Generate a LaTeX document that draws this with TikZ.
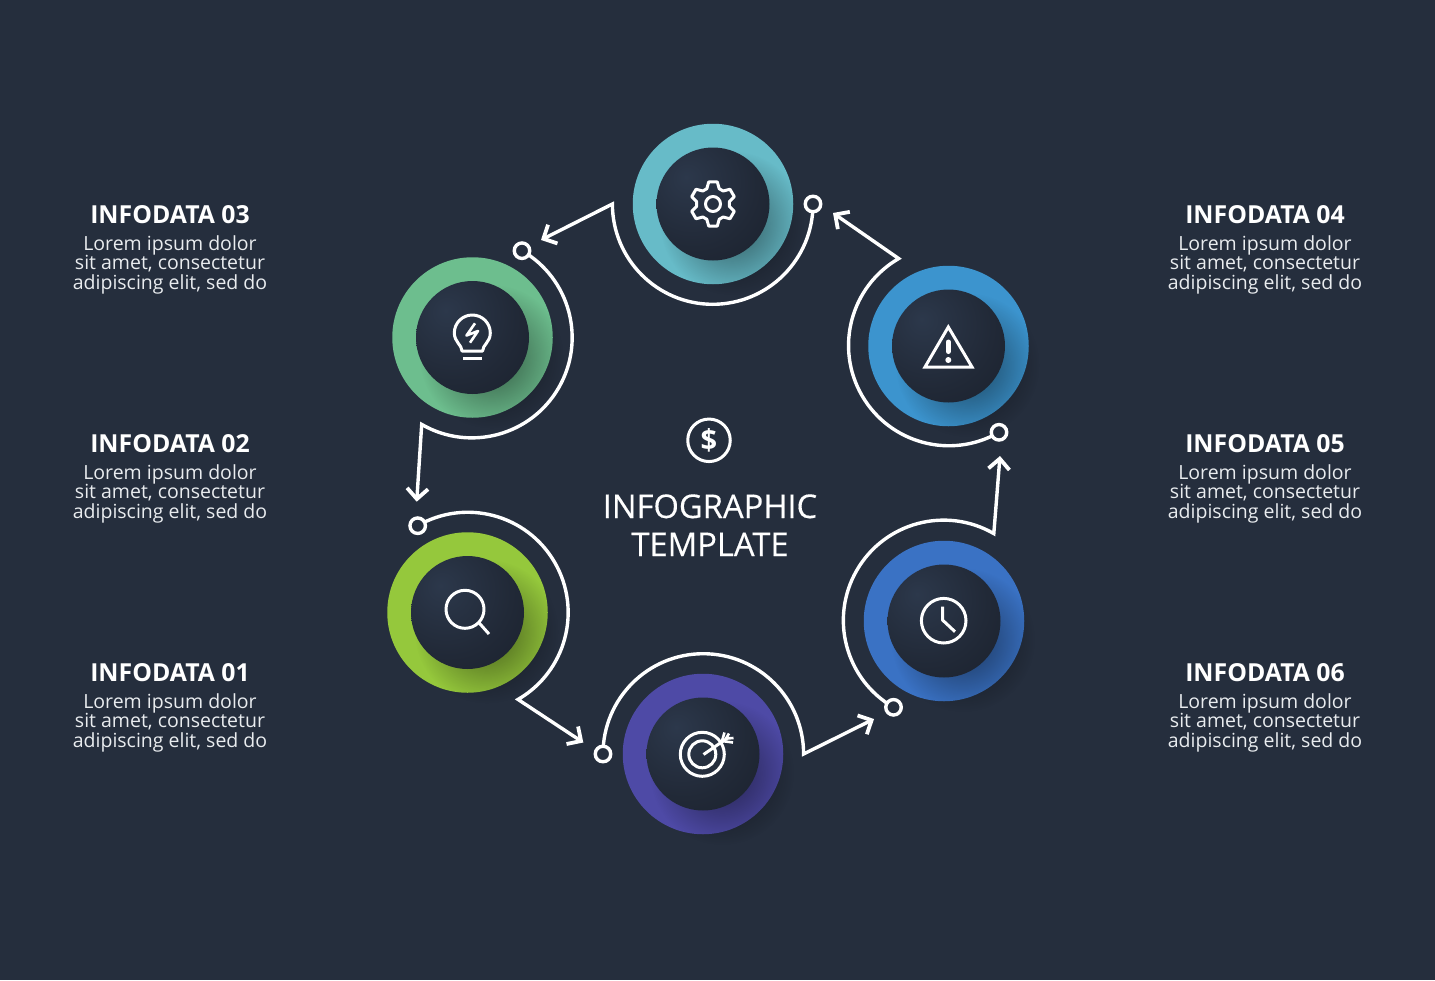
\documentclass[tikz,border=0pt]{standalone}
\usepackage{fontspec}
\setmainfont{Open Sans}
\newfontfamily\medfont[FakeBold=0.35]{Open Sans}
\usetikzlibrary{arrows.meta,calc,fadings}
\definecolor{bg}{HTML}{252E3D}
\definecolor{ballhi}{HTML}{2C384B}
\definecolor{ballmid}{HTML}{212937}
\definecolor{balldk}{HTML}{141923}
\definecolor{cteal}{HTML}{67BBC8}
\definecolor{cgreen}{HTML}{6DBE8E}
\definecolor{clime}{HTML}{95C83C}
\definecolor{cpurple}{HTML}{4E4AA6}
\definecolor{cblue}{HTML}{3A72C4}
\definecolor{csky}{HTML}{3C94CE}
\definecolor{bodytxt}{HTML}{E9ECEF}
\pgfdeclareradialshading{ballshade}{\pgfpoint{-12bp}{12bp}}{color(0bp)=(ballhi); color(28bp)=(ballmid); color(64bp)=(balldk); color(100bp)=(balldk)}
\tikzfading[name=softfade,inner color=transparent!45,outer color=transparent!100]
\tikzset{
  ringnode/.style={circle,fill=#1,draw=none,minimum size=160.5,inner sep=0},
  ballnode/.style={circle,shading=ballshade,draw=none,minimum size=113,inner sep=0},
  flow/.style={draw=white,line width=3.4,line join=miter,miter limit=20,-{Straight Barb[length=10.5,width=21,line width=3.8]}},
  enddot/.style={circle,draw=white,line width=3.4,fill=bg,minimum size=15.5,inner sep=0},
  iconline/.style={draw=white,line width=3,line join=round,fill=none},
  headtxt/.style={text=white,font=\fontsize{24.8}{26}\selectfont\bfseries,anchor=base,inner sep=0},
  bodynode/.style={text=bodytxt,font=\fontsize{19.5}{19.5}\selectfont,align=center,anchor=base,inner sep=0},
  maintxt/.style={text=white,font=\fontsize{32.7}{38}\selectfont\medfont,anchor=base,inner sep=0},
}
\newcommand{\softshadow}[1]{%
  \fill[black,path fading=softfade] ($(#1)+(19,19)$) circle[radius=72];}
\newcommand{\infoblock}[5]{%
  \node[headtxt] (#1h) at (#2,#3+9) {#4};
  \node[bodynode] (#1b) at (#2,#3+75) {Lorem ipsum dolor\\sit amet, consectetur\\adipiscing elit, sed do};}
\begin{document}
\begin{tikzpicture}[x=1pt,y=-1pt]
\useasboundingbox (0,0) rectangle (1435,980);
\fill[bg] (0,0) rectangle (1435,980);
% rings and balls
\node[ringnode=cteal] (r1) at (713,204) {};
\node[ringnode=cgreen] (r2) at (472.5,337.5) {};
\node[ringnode=clime] (r3) at (467.5,612.5) {};
\node[ringnode=cpurple] (r4) at (703,754) {};
\node[ringnode=cblue] (r5) at (944,621) {};
\node[ringnode=csky] (r6) at (948.5,346) {};
\foreach \n in {r1,r2,r3,r4,r5,r6}{\softshadow{\n}}
\node[ballnode] (b1) at (r1) {};
\node[ballnode] (b2) at (r2) {};
\node[ballnode] (b3) at (r3) {};
\node[ballnode] (b4) at (r4) {};
\node[ballnode] (b5) at (r5) {};
\node[ballnode] (b6) at (r6) {};
% connectors
\coordinate (s1) at (813,204);
\coordinate (t1) at (541,240);
\coordinate (s2) at (522,250.7);
\coordinate (t2) at (416.7,501.7);
\coordinate (s3) at (417.7,525.7);
\coordinate (t3) at (583.3,742.5);
\coordinate (s4) at (603,754);
\coordinate (t4) at (874,719);
\coordinate (s5) at (893.5,707.3);
\coordinate (t5) at (1000,456);
\coordinate (s6) at (999,432.3);
\coordinate (t6) at (833,213);
\draw[flow] (s1) arc[start angle=0,delta angle=180,radius=100.3] -- (t1);
\draw[flow] (s2) arc[start angle=-60,delta angle=180,radius=100.3] -- (t2);
\draw[flow] (s3) arc[start angle=-120,delta angle=180,radius=100.3] -- (t3);
\draw[flow] (s4) arc[start angle=180,delta angle=180,radius=100.3] -- (t4);
\draw[flow] (s5) arc[start angle=120,delta angle=180,radius=100.3] -- (t5);
\draw[flow] (s6) arc[start angle=60,delta angle=180,radius=100.3] -- (t6);
\foreach \n in {1,...,6}{\node[enddot] (d\n) at (s\n) {};}
% gear
\begin{scope}[shift={(713,204)}]
\draw[iconline] (-90-11:22.5) \foreach \a in {-90,-30,30,90,150,210}{ -- (\a-11:22.5) -- (\a+11:22.5) -- (\a+22:16.5) -- (\a+38:16.5)} -- cycle;
\draw[iconline] (0,0) circle[radius=7.5];
\end{scope}
% bulb
\draw[iconline] (462,351) .. controls (462,345) and (454.3,342) .. (454.3,333) arc[start angle=180,delta angle=180,radius=18] .. controls (490.3,342) and (482.6,345) .. (482.6,351) -- cycle;
\draw[iconline] (463,358.3) -- (481.7,358.3);
\draw[iconline,line width=2.6] (475,323.3) -- (466.5,335.5) -- (478,331) -- (470,342.7);
% magnifier
\draw[iconline] (465,609.3) circle[radius=19];
\draw[iconline] (478.3,622) -- (489,634);
% target
\draw[iconline] (702.3,754.3) circle[radius=22];
\draw[iconline] (702.3,754.3) circle[radius=13.5];
\draw[iconline] (703.5,754.5) -- (729,737);
\draw[iconline,line width=2.6] (722,741) -- (724.5,732.5);
\draw[iconline,line width=2.6] (726,738.5) -- (729,733.5);
\draw[iconline,line width=2.6] (722,741) -- (733,742.5);
\draw[iconline,line width=2.6] (726,738.5) -- (733.5,738);
% clock
\draw[iconline] (943.7,620.7) circle[radius=22.3];
\draw[iconline] (942.5,606.7) -- (942.5,620) -- (955,631.7);
% warning
\draw[iconline,line join=miter] (948.3,327) -- (972,367) -- (925,367) -- cycle;
\draw[white,line width=5,line cap=round] (948.3,342) -- (948.3,351.5);
\fill[white] (948.3,360) circle[radius=3];
% centre
\node[circle,draw=white,line width=3,minimum size=42.5,inner sep=0,text=white,font=\fontsize{29}{29}\selectfont\bfseries] (dollar) at (709,440.3) {\$};
\node[maintxt] (m1) at (710,518) {INFOGRAPHIC};
\node[maintxt] (m2) at (710,556) {TEMPLATE};
% texts
\infoblock{a}{170}{214}{INFODATA 03}{}
\infoblock{b}{170}{443}{INFODATA 02}{}
\infoblock{c}{170}{672}{INFODATA 01}{}
\infoblock{d}{1265}{214}{INFODATA 04}{}
\infoblock{e}{1265}{443}{INFODATA 05}{}
\infoblock{f}{1265}{672}{INFODATA 06}{}
\end{tikzpicture}
\end{document}
